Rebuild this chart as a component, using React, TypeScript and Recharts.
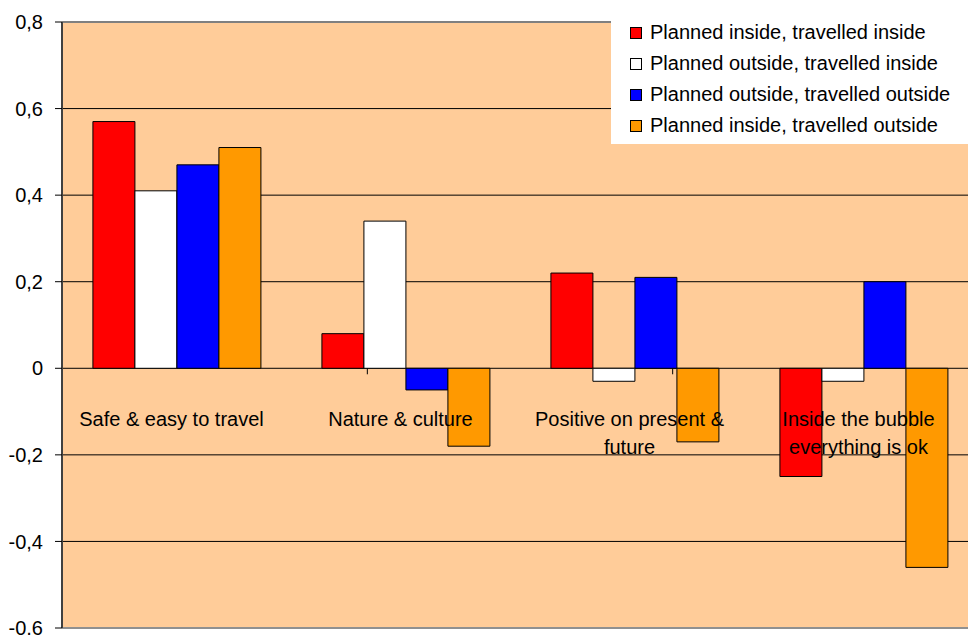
import React from "react";
import {
  BarChart,
  Bar,
  XAxis,
  YAxis,
  CartesianGrid,
  ReferenceLine,
  ReferenceDot,
  Legend,
} from "recharts";

const FONT = '"Liberation Sans", Arial, Helvetica, sans-serif';

// Categories (a "\n" marks where the axis label wraps)
const categories = [
  "Safe & easy to travel",
  "Nature & culture",
  "Positive on present &\nfuture",
  "Inside the bubble\neverything is ok",
];

const seriesNames = [
  "Planned inside, travelled inside",
  "Planned outside, travelled inside",
  "Planned outside, travelled outside",
  "Planned inside, travelled outside",
];

const seriesColors = ["#FF0000", "#FFFFFF", "#0000FF", "#FF9900"];

const plannedInsideTravelledInside = [0.57, 0.08, 0.22, -0.25];
const plannedOutsideTravelledInside = [0.41, 0.34, -0.03, -0.03];
const plannedOutsideTravelledOutside = [0.47, -0.05, 0.21, 0.2];
const plannedInsideTravelledOutside = [0.51, -0.18, -0.17, -0.46];

const yTicks = [-0.6, -0.4, -0.2, 0, 0.2, 0.4, 0.6, 0.8];
const categoryBoundaries = [1, 2, 3];

const seriesValues = [
  plannedInsideTravelledInside,
  plannedOutsideTravelledInside,
  plannedOutsideTravelledOutside,
  plannedInsideTravelledOutside,
];

const data = categories.map((name, i) => ({
  name,
  s0: seriesValues[0][i],
  s1: seriesValues[1][i],
  s2: seriesValues[2][i],
  s3: seriesValues[3][i],
}));

const fmt = (v: number) => (v === 0 ? "0" : v.toFixed(1).replace(".", ","));

function CategoryLabel(props: any) {
  const vb = props.viewBox || {};
  const cx = (vb.x ?? 0) + (vb.width ?? 0) / 2 - 5;
  const y0 = (vb.y ?? 0) + (vb.height ?? 0) / 2;
  const lines = String(props.text).split("\n");
  return (
    <text
      x={cx}
      y={y0 + 58}
      textAnchor="middle"
      fontFamily={FONT}
      fontSize={20}
      fill="#000"
    >
      {lines.map((l, i) => (
        <tspan key={i} x={cx} dy={i === 0 ? 0 : 28}>
          {l}
        </tspan>
      ))}
    </text>
  );
}

function LegendBox() {
  return (
    <div
      style={{
        background: "#FFFFFF",
        padding: "3px 0 3px 19px",
        fontFamily: FONT,
        fontSize: 20,
        color: "#000",
        boxSizing: "border-box",
      }}
    >
      {seriesNames.map((n, i) => (
        <div
          key={n}
          style={{ display: "flex", alignItems: "center", height: 31, whiteSpace: "nowrap" }}
        >
          <span
            style={{
              display: "inline-block",
              width: 12,
              height: 12,
              boxSizing: "border-box",
              border: "1px solid #000",
              background: seriesColors[i],
              marginRight: 8,
            }}
          />
          <span>{n}</span>
        </div>
      ))}
    </div>
  );
}

export default function App() {
  return (
    <div
      style={{
        position: "absolute",
        left: 0,
        top: 0,
        width: 968,
        height: 635,
        overflow: "hidden",
        background: "#FFFFFF",
      }}
    >
      <BarChart
        width={990}
        height={635}
        data={data}
        margin={{ top: 22, right: 12, bottom: 7, left: 0 }}
        barCategoryGap="13.5%"
        barGap={0}
      >
        <CartesianGrid
          vertical={false}
          stroke="#000"
          fill="#FFCC99"
          fillOpacity={1}
        />
        <XAxis dataKey="name" hide />
        <XAxis xAxisId="b" type="number" domain={[0, 4]} hide allowDataOverflow />
        <YAxis
          domain={[-0.6, 0.8]}
          ticks={yTicks}
          interval={0}
          allowDataOverflow
          tickFormatter={fmt}
          width={62}
          tickSize={7}
          tickMargin={12}
          axisLine={{ stroke: "#404040", strokeWidth: 2 }}
          tickLine={{ stroke: "#000" }}
          tick={{ fontFamily: FONT, fontSize: 20, fill: "#000" }}
        />
        <ReferenceLine y={0.8} stroke="#808080" strokeWidth={2} />
        <ReferenceLine y={-0.6} stroke="#909090" strokeWidth={2} />
        {seriesNames.map((n, i) => (
          <Bar
            key={n}
            dataKey={`s${i}`}
            name={n}
            fill={seriesColors[i]}
            stroke="#000"
            strokeWidth={1}
            isAnimationActive={false}
          />
        ))}
        {categoryBoundaries.map((b) => (
          <ReferenceDot
            key={`tick-${b}`}
            xAxisId="b"
            x={b}
            y={0}
            r={0}
            shape={(p: any) => (
              <line x1={p.cx} y1={p.cy} x2={p.cx} y2={p.cy + 6} stroke="#000" strokeWidth={1} />
            )}
          />
        ))}
        {categories.map((c) => (
          <ReferenceDot
            key={`lbl-${c}`}
            x={c}
            y={0}
            r={0}
            fill="none"
            stroke="none"
            label={(p: any) => <CategoryLabel {...p} text={c} />}
          />
        ))}
        <Legend
          layout="vertical"
          align="center"
          verticalAlign="middle"
          wrapperStyle={{ left: 611, top: 14, width: 380 }}
          content={() => <LegendBox />}
        />
      </BarChart>
    </div>
  );
}
